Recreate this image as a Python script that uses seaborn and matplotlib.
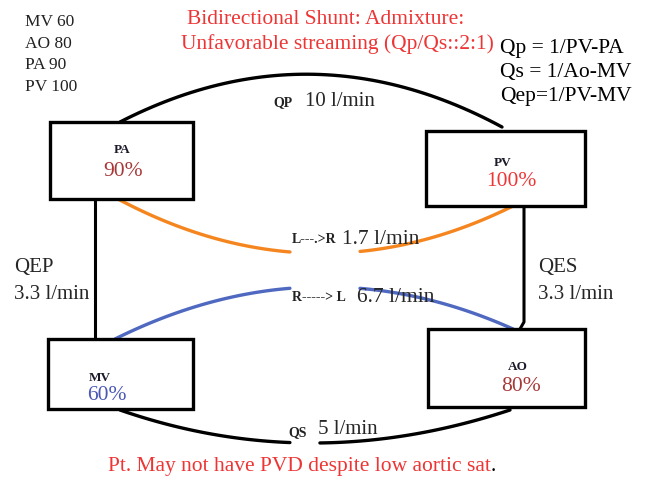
import numpy as np
import pandas as pd
import matplotlib.pyplot as plt
import seaborn as sns

# saturations (%)
sites = ["PA", "PV", "MV", "AO"]
sats = [90, 100, 60, 80]
legend_order = ["MV", "AO", "PA", "PV"]

# flows (l/min)
qp = 10
qs = 5
qep = 3.3
qes = 3.3
l_to_r = 1.7
r_to_l = 6.7

title = ["Bidirectional Shunt: Admixture:", "Unfavorable streaming (Qp/Qs::2:1)"]
formulas = ["Qp = 1/PV-PA", "Qs = 1/Ao-MV", "Qep=1/PV-MV"]
note = "Pt. May not have PVD despite low aortic sat"

sns.set_style("white")
plt.rcParams["font.family"] = ["Liberation Serif", "DejaVu Serif"]

RED = "#ee3535"
DARKRED = "#a83838"
BLUE = "#4a58b5"
ORANGE = "#f5861f"
LBLUE = "#4f68c0"

# box geometry in pixel space (x0, y0, x1, y1)
boxes = {"PA": (50, 123, 193, 200), "PV": (426, 132, 585, 207),
         "MV": (48, 340, 193, 410), "AO": (428, 330, 585, 408)}
label_pos = {"PA": (122, 150, 123, 172), "PV": (503, 163, 511, 182),
             "MV": (100, 378, 107, 396), "AO": (518, 367, 521, 387)}
sat_colors = {"PA": DARKRED, "PV": RED, "MV": BLUE, "AO": DARKRED}

fig = plt.figure(figsize=(6.47, 4.81), dpi=100)
ax = fig.add_axes([0, 0, 1, 1])
ax.set_xlim(0, 647)
ax.set_ylim(481, 0)
ax.axis("off")


def bezier(p0, c, p2, t0=0.0, t1=1.0, n=60):
    t = np.linspace(t0, t1, n)
    x = (1 - t) ** 2 * p0[0] + 2 * (1 - t) * t * c[0] + t ** 2 * p2[0]
    y = (1 - t) ** 2 * p0[1] + 2 * (1 - t) * t * c[1] + t ** 2 * p2[1]
    return pd.DataFrame({"x": x, "y": y})


def draw(df, color, lw):
    sns.lineplot(data=df, x="x", y="y", ax=ax, color=color, lw=lw,
                 sort=False, estimator=None)


def t_at(p0, c, p2, xv):
    # parameter where bezier reaches x = xv
    t = np.linspace(0, 1, 2001)
    x = (1 - t) ** 2 * p0[0] + 2 * (1 - t) * t * c[0] + t ** 2 * p2[0]
    return t[np.argmin(np.abs(x - xv))]


# top arc (Qp)
draw(bezier((120, 123), (311, 25), (502, 128)), "black", 2.4)

# bottom arc (Qs) with a gap for its label
b0, bc, b2 = (120, 411), (310, 477), (510, 411)
draw(bezier(b0, bc, b2, 0, t_at(b0, bc, b2, 290)), "black", 2.4)
draw(bezier(b0, bc, b2, t_at(b0, bc, b2, 320), 1), "black", 2.4)

# vertical connectors
draw(pd.DataFrame({"x": [95, 95], "y": [200, 340]}), "black", 2.2)
draw(pd.DataFrame({"x": [524, 524, 520], "y": [207, 323, 330]}), "black", 2.2)

# shunts
o0, oc, o2 = (118, 200), (315, 305), (513, 207)
draw(bezier(o0, oc, o2, 0, t_at(o0, oc, o2, 290)), ORANGE, 2.4)
draw(bezier(o0, oc, o2, t_at(o0, oc, o2, 360), 1), ORANGE, 2.4)
u0, uc, u2 = (115, 340), (314, 241), (513, 330)
draw(bezier(u0, uc, u2, 0, t_at(u0, uc, u2, 290)), LBLUE, 2.4)
draw(bezier(u0, uc, u2, t_at(u0, uc, u2, 360), 1), LBLUE, 2.4)

# boxes
for name, (x0, y0, x1, y1) in boxes.items():
    ax.add_patch(plt.Rectangle((x0, y0), x1 - x0, y1 - y0, fill=True,
                               facecolor="white", edgecolor="black", lw=2.4,
                               zorder=3))

for name, sat in zip(sites, sats):
    lx, ly, sx, sy = label_pos[name]
    ax.text(lx, ly, name, fontsize=9.5, fontweight="bold", ha="center",
            va="center", color="#1a1a2a", zorder=4)
    ax.text(sx, sy, f"{sat}%", fontsize=15.5, ha="center", va="center",
            color=sat_colors[name], zorder=4)

# saturation legend
sat_map = dict(zip(sites, sats))
for i, name in enumerate(legend_order):
    ax.text(25, 22 + i * 21.7, f"{name} {sat_map[name]}", fontsize=12.5,
            ha="left", va="center", color="#222222")

ax.text(326, 19, title[0], fontsize=15.5, ha="center", va="center", color=RED)
ax.text(337, 44, title[1], fontsize=15.5, ha="center", va="center", color=RED)

for i, f in enumerate(formulas):
    ax.text(500, 48 + i * 24.5, f, fontsize=15.5, ha="left", va="center",
            color="black")

# flow labels
ax.text(273, 103, "QP", fontsize=10, fontweight="bold", ha="left",
        va="center", color="#222222")
ax.text(305, 102, f"{qp} l/min", fontsize=15, ha="left", va="center")
ax.text(288, 433, "QS", fontsize=10, fontweight="bold", ha="left",
        va="center", color="#222222")
ax.text(318, 430, f"{qs} l/min", fontsize=15, ha="left", va="center")
ax.text(14, 268, "QEP", fontsize=15, ha="left", va="center")
ax.text(14, 295, f"{qep} l/min", fontsize=15, ha="left", va="center")
ax.text(538, 268, "QES", fontsize=15, ha="left", va="center")
ax.text(538, 295, f"{qes} l/min", fontsize=15, ha="left", va="center")
ax.text(292, 240, "L---.>R", fontsize=10, fontweight="bold", ha="left",
        va="center", color="#222222")
ax.text(342, 240, f"{l_to_r} l/min", fontsize=15.5, ha="left", va="center")
ax.text(292, 298, "R-----> L", fontsize=10, fontweight="bold", ha="left",
        va="center", color="#222222")
ax.text(357, 298, f"{r_to_l} l/min", fontsize=15.5, ha="left", va="center")

t = ax.text(108, 467, note, fontsize=15.5, ha="left", va="center", color=RED)
fig.canvas.draw()
bb = t.get_window_extent().transformed(ax.transData.inverted())
ax.text(bb.x1, 467, ".", fontsize=15.5, ha="left", va="center", color="black")

fig.savefig("out.png", dpi=100)
